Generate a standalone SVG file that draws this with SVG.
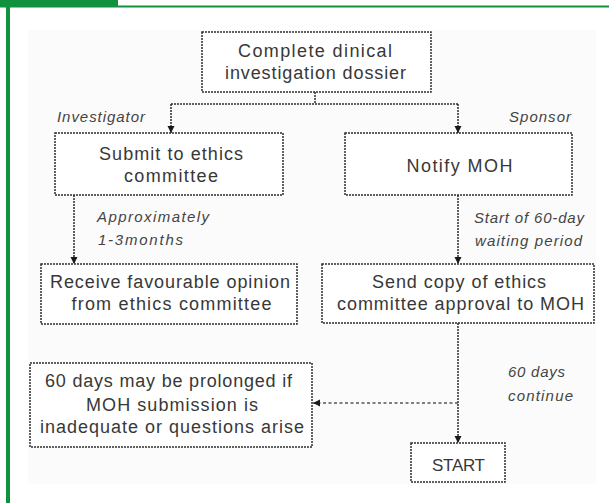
<svg xmlns="http://www.w3.org/2000/svg" width="609" height="503" viewBox="0 0 609 503">
<style>
  .box { fill: #ffffff; stroke: #2e2e2e; stroke-width: 1.5; stroke-dasharray: 2 1; }
  .t { font-family: "Liberation Sans", Arial, sans-serif; font-size: 18px; fill: #383838; text-anchor: middle; }
  .lab { font-family: "Liberation Sans", Arial, sans-serif; font-size: 15px; font-style: italic; fill: #444444; }
  .conn { fill: none; stroke: #2e2e2e; stroke-width: 1.5; stroke-dasharray: 2 1; }
  .dash { fill: none; stroke: #555555; stroke-width: 1.3; stroke-dasharray: 3 2.5; }
  .green { fill: #10913d; }
</style>
<defs>
  <marker id="arr" markerUnits="userSpaceOnUse" markerWidth="8" markerHeight="8" refX="7" refY="3.5" orient="auto">
    <path d="M0,0 L7,3.5 L0,7 z" fill="#1a1a1a"/>
  </marker>
</defs>
<rect x="0" y="0" width="609" height="503" fill="#ffffff"/>
<g id="frame">
  <rect class="green" x="0" y="0" width="118" height="7.5"/>
  <rect class="green" x="118" y="5.5" width="491" height="2"/>
  <rect class="green" x="6" y="7" width="4" height="496"/>
  <rect x="28" y="30" width="568" height="454" fill="#fbfbfb"/>
</g>
<g id="connectors">
  <polyline class="conn" points="315,92 315,104"/>
  <polyline class="conn" points="171,104 458,104"/>
  <polyline class="conn" points="171,104 171,133" marker-end="url(#arr)"/>
  <polyline class="conn" points="458,104 458,133" marker-end="url(#arr)"/>
  <polyline class="conn" points="74,195 74,264" marker-end="url(#arr)"/>
  <polyline class="conn" points="458,195 458,264" marker-end="url(#arr)"/>
  <polyline class="conn" points="458,323 458,443" marker-end="url(#arr)"/>
  <polyline class="dash" points="458,403 313,403" marker-end="url(#arr)"/>
</g>
<g id="labels">
  <text class="lab" x="57" y="122" textLength="88">Investigator</text>
  <text class="lab" x="509" y="122" textLength="62">Sponsor</text>
  <text class="lab" x="97" y="222" textLength="112">Approximately</text>
  <text class="lab" x="98" y="245" textLength="85">1-3months</text>
  <text class="lab" x="474" y="223" textLength="110">Start of 60-day</text>
  <text class="lab" x="475" y="246" textLength="107">waiting period</text>
  <text class="lab" x="508" y="377" textLength="57">60 days</text>
  <text class="lab" x="508" y="401" textLength="65">continue</text>
</g>
<g id="node-dossier">
  <rect class="box" x="202" y="32" width="229" height="60"/>
  <text class="t" x="315" y="57" textLength="154">Complete dinical</text>
  <text class="t" x="315.5" y="79" textLength="181">investigation dossier</text>
</g>
<g id="node-submit">
  <rect class="box" x="55" y="133" width="228" height="62"/>
  <text class="t" x="171" y="160" textLength="144">Submit to ethics</text>
  <text class="t" x="171" y="182" textLength="94">committee</text>
</g>
<g id="node-notify">
  <rect class="box" x="345" y="133" width="227" height="62"/>
  <text class="t" x="459.5" y="172" textLength="106">Notify MOH</text>
</g>
<g id="node-receive">
  <rect class="box" x="41" y="264" width="256" height="60"/>
  <text class="t" x="170" y="288" textLength="240">Receive favourable opinion</text>
  <text class="t" x="171.5" y="310" textLength="200">from ethics committee</text>
</g>
<g id="node-send">
  <rect class="box" x="322" y="264" width="272" height="59"/>
  <text class="t" x="459" y="287.5" textLength="174">Send copy of ethics</text>
  <text class="t" x="460.5" y="309.5" textLength="247">committee approval to MOH</text>
</g>
<g id="node-prolonged">
  <rect class="box" x="30" y="363" width="282" height="84"/>
  <text class="t" x="168.5" y="387" textLength="247">60 days may be prolonged if</text>
  <text class="t" x="172" y="411" textLength="172">MOH submission is</text>
  <text class="t" x="172" y="433" textLength="264">inadequate or questions arise</text>
</g>
<g id="node-start">
  <rect class="box" x="411" y="443" width="94" height="39"/>
  <text class="t" x="458.5" y="471" style="font-size:17px" textLength="53">START</text>
</g>
</svg>
